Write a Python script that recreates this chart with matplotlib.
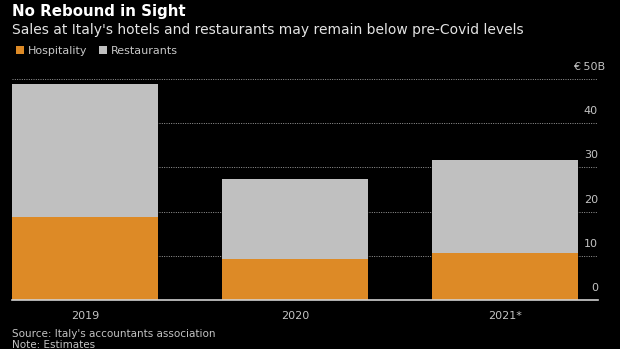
import matplotlib.pyplot as plt

years = ["2019", "2020", "2021*"]
hospitality = [18.8, 9.2, 10.6]
restaurants = [30.1, 18.1, 21.1]
y_ticks = [0, 10, 20, 30, 40, 50]
y_labels = ["0", "10", "20", "30", "40", "€ 50B"]

W, H = 620, 349


def fx(px):
    return px / W


def fy(py):
    return 1 - py / H


def main() -> None:
    plt.rcParams["font.family"] = "DejaVu Sans"
    orange = "#dd8a26"
    grey = "#c0c0c0"

    fig = plt.figure(figsize=(W / 100, H / 100), dpi=100, facecolor="black")
    ax = fig.add_axes([fx(12), fy(300), fx(598) - fx(12), fy(79) - fy(300)])
    ax.set_facecolor("black")

    x = range(len(years))
    width = 0.695
    ax.bar(x, hospitality, width=width, color=orange, label="Hospitality", zorder=2)
    ax.bar(x, restaurants, width=width, bottom=hospitality, color=grey,
           label="Restaurants", zorder=2)

    ax.set_xlim(-width / 2, 2.443)
    ax.set_ylim(0, 50)

    # dotted gridlines sit behind the bars, solid baseline on top
    for v in y_ticks[1:]:
        ax.axhline(v, color="#9a9a9a", lw=0.7, ls=(0, (1, 1.4)), zorder=1)
    ax.axhline(0, color="#d0d0d0", lw=1.2, zorder=3, clip_on=False)

    for v, lab in zip(y_ticks, y_labels):
        dx = 5 if lab.endswith("B") else 0
        ax.annotate(lab, (1, v), xycoords=("axes fraction", "data"),
                    xytext=(dx, 5), textcoords="offset points",
                    ha="right", va="bottom", fontsize=8, color="#c4c4c4")

    ax.set_yticks([])
    ax.set_xticks(list(x), years)
    ax.tick_params(axis="x", length=0, pad=8, labelsize=8, labelcolor="#c4c4c4")
    for side in ("top", "right", "left", "bottom"):
        ax.spines[side].set_visible(False)

    fig.text(fx(12), fy(16), "No Rebound in Sight", fontsize=10.8,
             fontweight="bold", color="white", va="baseline")
    fig.text(fx(12), fy(34), "Sales at Italy's hotels and restaurants may remain below pre-Covid levels",
             fontsize=10, color="#e4e4e4", va="baseline")

    ax.legend(loc="center left", bbox_to_anchor=(fx(6), fy(51)),
              bbox_transform=fig.transFigure, ncol=2, frameon=False,
              fontsize=8, labelcolor="#c8c8c8", handlelength=0.7,
              handleheight=0.7, handletextpad=0.4, columnspacing=1.0)

    fig.text(fx(12), fy(334), "Source: Italy's accountants association",
             fontsize=7.5, color="#c4c4c4", va="center")
    fig.text(fx(12), fy(348), "Note: Estimates",
             fontsize=7.5, color="#c4c4c4", va="baseline")

    fig.savefig("out.png", dpi=100, facecolor="black")
    plt.close(fig)


if __name__ == "__main__":
    main()
